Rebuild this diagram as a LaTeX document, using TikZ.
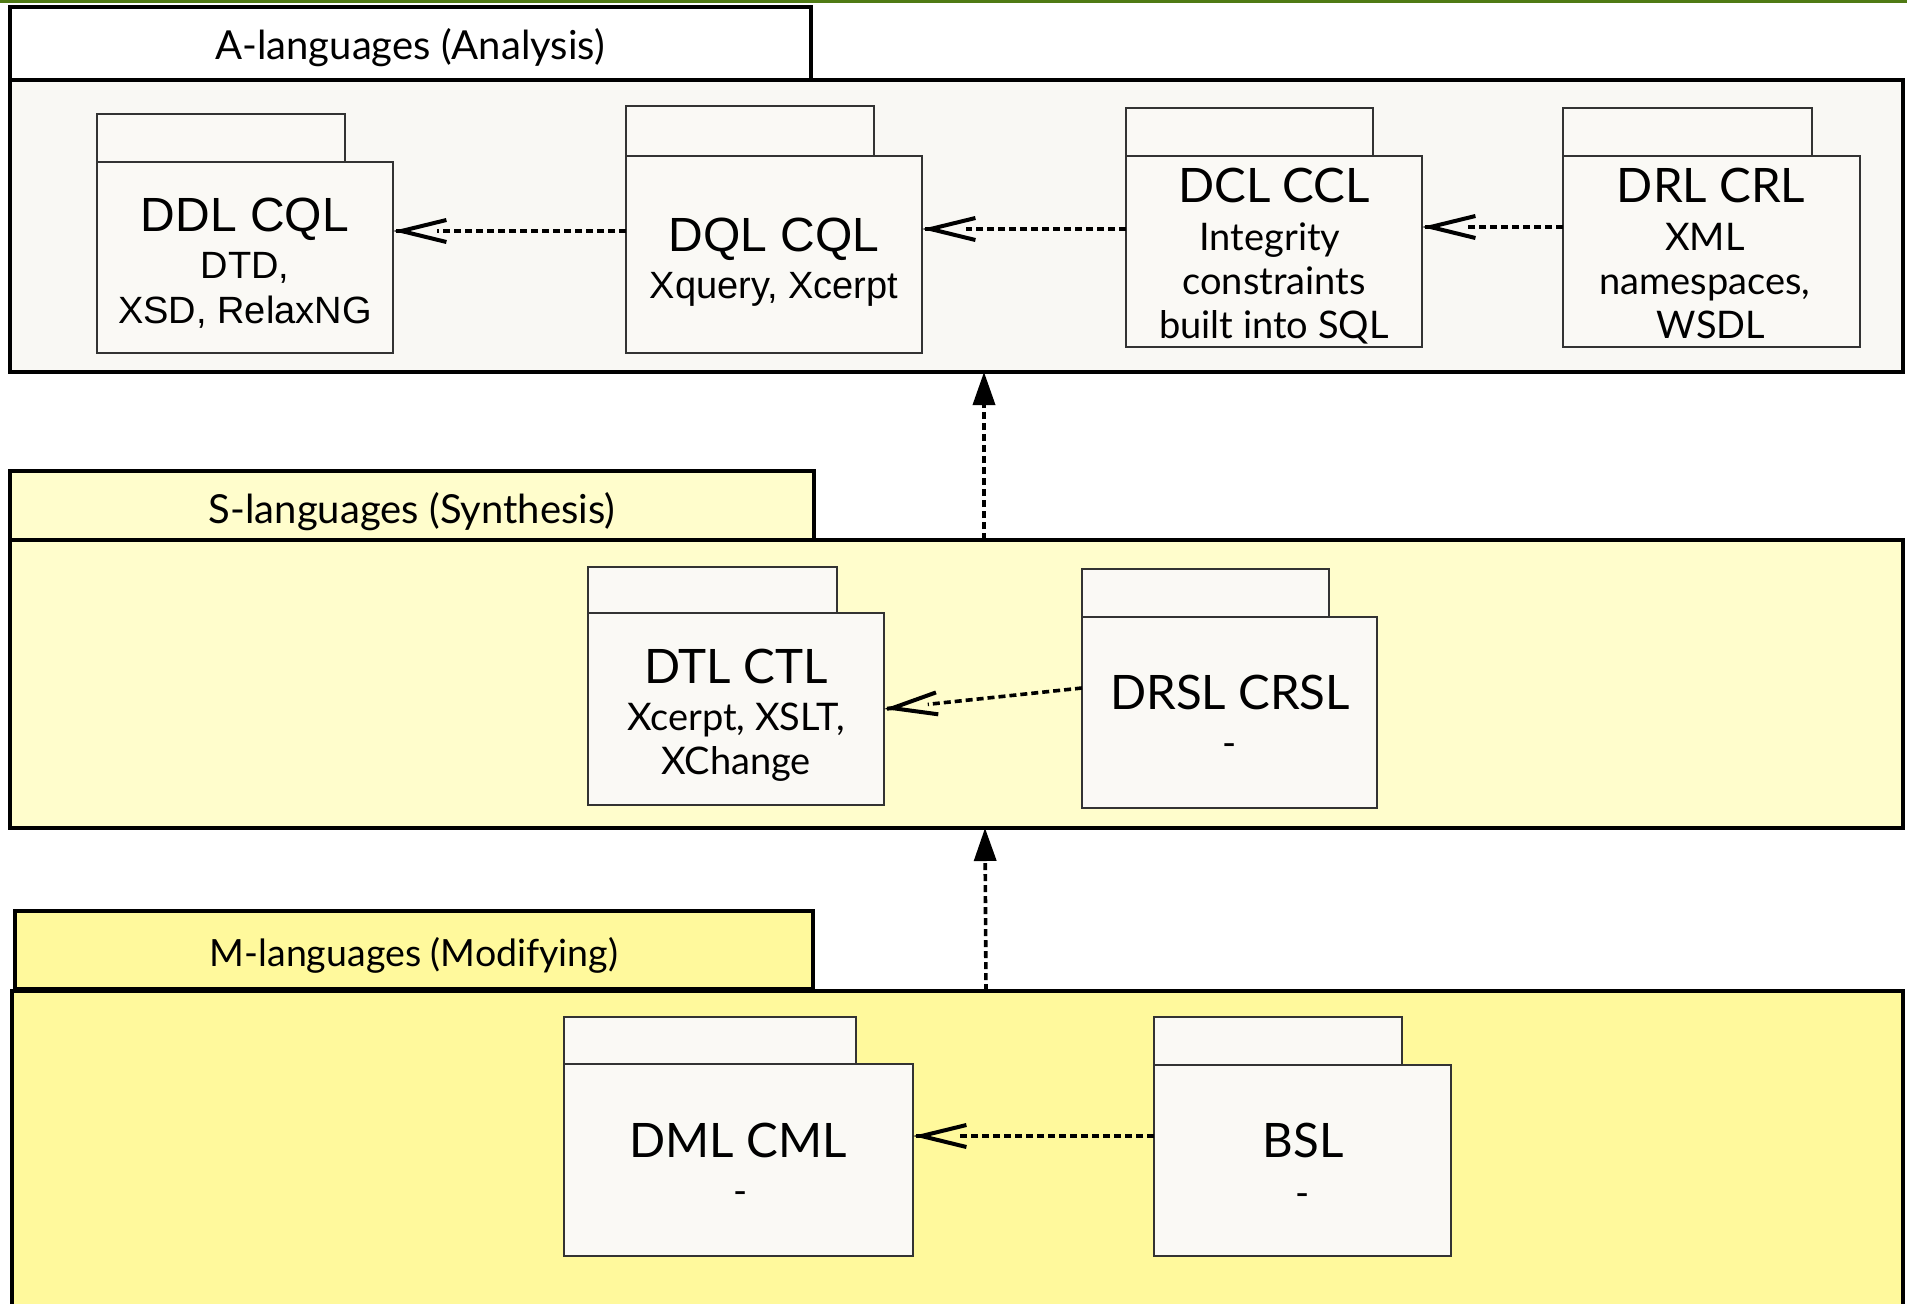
\documentclass[tikz,border=0pt]{standalone}
\usepackage{fontspec}
\setmainfont{Lato}
\newfontfamily\arialfont{Liberation Sans}
\usetikzlibrary{arrows.meta,calc}

\definecolor{abg}{HTML}{F9F8F4}
\definecolor{sbg}{HTML}{FFFDCC}
\definecolor{mbg}{HTML}{FFF99C}
\definecolor{pkgfill}{HTML}{FAF9F5}
\definecolor{pkgline}{HTML}{333333}
\definecolor{topline}{HTML}{4F7A14}

\tikzset{
  frame/.style={draw=black, line width=3.2pt, inner sep=0pt, outer sep=0pt, anchor=north west},
  pkg/.style={draw=pkgline, fill=pkgfill, line width=1.3pt, inner sep=0pt, outer sep=0pt, anchor=north west},
  txt/.style={anchor=base, inner sep=0pt, outer sep=0pt, align=center},
  hdr/.style={txt, font=\fontsize{40pt}{48pt}\selectfont},
  ltitle/.style={txt, font=\fontsize{47.5pt}{57pt}\selectfont},
  lsub/.style={txt, font=\fontsize{38pt}{44pt}\selectfont},
  atitle/.style={txt, font=\arialfont\fontsize{48pt}{57pt}\selectfont},
  asub/.style={txt, font=\arialfont\fontsize{38pt}{45pt}\selectfont},
  depdash/.style={line width=3.6pt, dash pattern=on 7pt off 4pt},
  deptip/.style={line width=4pt, -{Straight Barb[length=45pt, width=22pt, line width=4pt]}},
  refine/.style={line width=3.6pt, dash pattern=on 7pt off 4pt,
    -{Triangle[length=33pt, width=22pt]}},
}
% dependency: dashed shaft that stops at the open "<" head, head solid
\newcommand\deplink[2]{%
  \draw[depdash] (#1) -- ($(#2)!44pt!(#1)$);
  \draw[deptip] ($(#2)!3pt!(#1)$) -- (#2);
}

\begin{document}
\begin{tikzpicture}[x=1pt, y=-1pt]
\useasboundingbox (0,0) rectangle (1907,1304);
\clip (0,0) rectangle (1907,1304);
\fill[white] (0,0) rectangle (1907,1304);
\fill[topline] (0,0) rectangle (1907,3);

% ---- A-languages frame
\node[frame, fill=abg, minimum width=1893pt, minimum height=292pt] (abody) at (10,80) {};
\node[frame, fill=white, minimum width=801pt, minimum height=73pt] (atab) at (10,7) {};
\node[hdr] (atitle) at (410,59) {A-languages (Analysis)};

% ---- S-languages frame
\node[frame, fill=sbg, minimum width=1893pt, minimum height=288pt] (sbody) at (10,540) {};
\node[frame, fill=sbg, minimum width=804pt, minimum height=69pt] (stab) at (10,471) {};
\node[hdr] (stitle) at (412,523) {S-languages (Synthesis)};

% ---- M-languages frame
\node[frame, fill=mbg, minimum width=1891pt, minimum height=340pt] (mbody) at (12,991) {};
\node[frame, fill=mbg, minimum width=798pt, minimum height=78pt] (mtab) at (15,911) {};
\node[hdr, font=\fontsize{37.5pt}{45pt}\selectfont] (mtitle) at (414,966) {M-languages (Modifying)};

% ---- packages in A
\node[pkg, minimum width=248pt, minimum height=48pt] (ddltab) at (97,114) {};
\node[pkg, minimum width=296pt, minimum height=191pt] (ddl) at (97,162) {};
\node[atitle] (ddl1) at (245,231) {DDL CQL};
\node[asub] (ddl2) at (245,278) {DTD,};
\node[asub] (ddl3) at (245,323) {XSD, RelaxNG};

\node[pkg, minimum width=248pt, minimum height=50pt] (dqltab) at (626,106) {};
\node[pkg, minimum width=296pt, minimum height=197pt] (dql) at (626,156) {};
\node[atitle] (dql1) at (774,251) {DQL CQL};
\node[asub] (dql2) at (774,298) {Xquery, Xcerpt};

\node[pkg, minimum width=247pt, minimum height=48pt] (dcltab) at (1126,108) {};
\node[pkg, minimum width=296pt, minimum height=191pt] (dcl) at (1126,156) {};
\node[ltitle] (dcl1) at (1274,202) {DCL CCL};
\node[lsub] (dcl2) at (1270,250) {Integrity};
\node[lsub] (dcl3) at (1274,294) {constraints};
\node[lsub] (dcl4) at (1274,338) {built into SQL};

\node[pkg, minimum width=249pt, minimum height=48pt] (drltab) at (1563,108) {};
\node[pkg, minimum width=297pt, minimum height=191pt] (drl) at (1563,156) {};
\node[ltitle] (drl1) at (1711,202) {DRL CRL};
\node[lsub] (drl2) at (1705,250) {XML};
\node[lsub] (drl3) at (1705,294) {namespaces,};
\node[lsub] (drl4) at (1711,338) {WSDL};

% ---- packages in S
\node[pkg, minimum width=249pt, minimum height=46pt] (dtltab) at (588,567) {};
\node[pkg, minimum width=296pt, minimum height=192pt] (dtl) at (588,613) {};
\node[ltitle] (dtl1) at (736,683) {DTL CTL};
\node[lsub] (dtl2) at (736,730) {Xcerpt, XSLT,};
\node[lsub] (dtl3) at (736,774) {XChange};

\node[pkg, minimum width=247pt, minimum height=48pt] (drsltab) at (1082,569) {};
\node[pkg, minimum width=295pt, minimum height=191pt] (drsl) at (1082,617) {};
\node[ltitle] (drsl1) at (1230,709) {DRSL CRSL};
\node[lsub] (drsl2) at (1230,756) {-};

% ---- packages in M
\node[pkg, minimum width=292pt, minimum height=47pt] (dmltab) at (564,1017) {};
\node[pkg, minimum width=349pt, minimum height=192pt] (dml) at (564,1064) {};
\node[ltitle] (dml1) at (738,1157) {DML CML};
\node[lsub] (dml2) at (741,1204) {-};

\node[pkg, minimum width=248pt, minimum height=48pt] (bsltab) at (1154,1017) {};
\node[pkg, minimum width=297pt, minimum height=191pt] (bsl) at (1154,1065) {};
\node[ltitle] (bsl1) at (1303,1157) {BSL};
\node[lsub] (bsl2) at (1303,1206) {-};

% ---- dependencies between packages
\deplink{[yshift=23.5pt]dql.west}{[yshift=26.5pt]ddl.east}
\deplink{[yshift=22.5pt]dcl.west}{[yshift=25.5pt]dql.east}
\deplink{[yshift=24.5pt]drl.west}{[yshift=24.5pt]dcl.east}
\deplink{[yshift=24.5pt]drsl.west}{dtl.east}
\deplink{[yshift=24.5pt]bsl.west}{[yshift=24pt]dml.east}

% ---- dependencies between layers
\draw[refine] ([xshift=27.5pt]sbody.north) -- ([xshift=27.5pt]abody.south);
\draw[refine] ([xshift=28.5pt]mbody.north) -- ([xshift=28.5pt]sbody.south);
\end{tikzpicture}
\end{document}
